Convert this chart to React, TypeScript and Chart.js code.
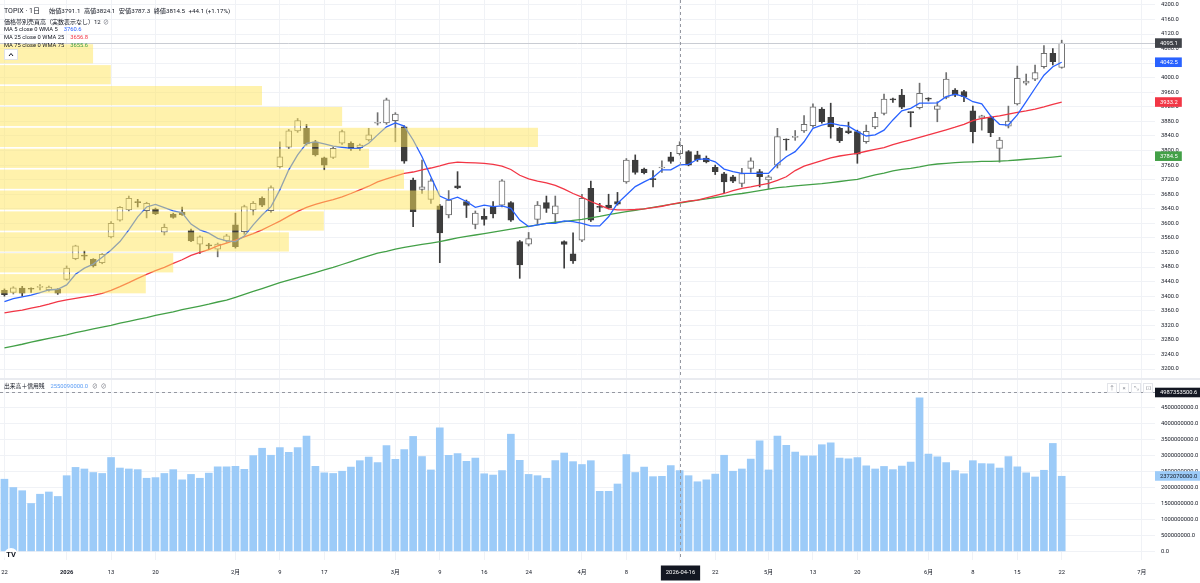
import React, { useEffect, useRef } from "react";
import { Chart, registerables } from "chart.js";

Chart.register(...registerables);

const FONT = '"Roboto", "Noto Sans CJK JP", "Noto Sans", sans-serif';
const AX = 5.8;

// ---- data ----
const dates = [
  "2025-12-22","2025-12-23","2025-12-24","2025-12-25","2025-12-26","2025-12-29","2025-12-30",
  "2026-01-05","2026-01-06","2026-01-07","2026-01-08","2026-01-09","2026-01-13","2026-01-14","2026-01-15","2026-01-16",
  "2026-01-19","2026-01-20","2026-01-21","2026-01-22","2026-01-23","2026-01-26","2026-01-27","2026-01-28","2026-01-29","2026-01-30",
  "2026-02-02","2026-02-03","2026-02-04","2026-02-05","2026-02-06","2026-02-09","2026-02-10","2026-02-12","2026-02-13",
  "2026-02-16","2026-02-17","2026-02-18","2026-02-19","2026-02-20","2026-02-24","2026-02-25","2026-02-26","2026-02-27",
  "2026-03-02","2026-03-03","2026-03-04","2026-03-05","2026-03-06","2026-03-09","2026-03-10","2026-03-11","2026-03-12","2026-03-13",
  "2026-03-16","2026-03-17","2026-03-18","2026-03-19","2026-03-23","2026-03-24","2026-03-25","2026-03-26","2026-03-27","2026-03-30","2026-03-31",
  "2026-04-01","2026-04-02","2026-04-03","2026-04-06","2026-04-07","2026-04-08","2026-04-09","2026-04-10","2026-04-13","2026-04-14",
  "2026-04-15","2026-04-16","2026-04-17","2026-04-20","2026-04-21","2026-04-22","2026-04-23","2026-04-24","2026-04-27","2026-04-28","2026-04-30",
  "2026-05-01","2026-05-07","2026-05-08","2026-05-11","2026-05-12","2026-05-13","2026-05-14","2026-05-15","2026-05-18","2026-05-19",
  "2026-05-20","2026-05-21","2026-05-22","2026-05-25","2026-05-26","2026-05-27","2026-05-28","2026-05-29",
  "2026-06-01","2026-06-02","2026-06-03","2026-06-04","2026-06-05","2026-06-08","2026-06-09","2026-06-10","2026-06-11","2026-06-12",
  "2026-06-15","2026-06-16","2026-06-17","2026-06-18","2026-06-19","2026-06-22",
];
const futureDates = ["2026-06-23","2026-06-24","2026-06-25","2026-06-26","2026-06-29","2026-06-30","2026-07-01","2026-07-02","2026-07-03","2026-07-06"];

const opens = [
  3416,3410,3422,3421,3424,3418,3419,3446,3503,3511,
  3501,3492,3563,3609,3637,3658,3635,3639,3576,3625,
  3630,3580,3543,3539,3529,3552,3596,3577,3637,3669,
  3635,3756,3809,3854,3861,3824,3780,3781,3820,3820,
  3808,3829,3875,3876,3882,3865,3719,3693,3666,3648,
  3623,3703,3660,3597,3619,3646,3650,3657,3550,3543,
  3611,3657,3626,3550,3516,3554,3696,3646,3650,3660,
  3714,3774,3749,3722,3752,3783,3791.1,3797,3788,3779,
  3754,3736,3728,3710,3751,3742,3719,3760,3830,3836,
  3854,3868,3914,3891,3861,3854,3852,3824,3865,3902,
  3940,3952,3905,3918,3942,3913,3946,3966,3962,3909,
  3889,3891,3806,3867,3928,3985,3996,4030,4067,4028,
];
const highs = [
  3420,3426,3427,3423,3432,3428,3421,3483,3540,3524,
  3503,3517,3605,3646,3675,3666,3658,3642,3598,3628,
  3645,3584,3566,3545,3546,3570,3628,3650,3660,3673,
  3703,3824,3858,3888,3872,3828,3782,3810,3856,3824,
  3818,3861,3904,3944,3904,3868,3724,3774,3722,3652,
  3690,3742,3664,3634,3640,3660,3720,3660,3553,3575,
  3660,3675,3675,3552,3574,3680,3716,3655,3680,3685,
  3778,3788,3752,3745,3772,3795,3824.1,3800,3798,3785,
  3760,3740,3732,3751,3780,3748,3732,3861,3832,3855,
  3896,3928,3918,3930,3864,3878,3856,3870,3905,3955,
  3944,3968,3906,3985,3945,3934,4014,3970,3965,3922,
  3897,3895,3836,3922,4032,4010,4035,4088,4080,4103,
];
const lows = [
  3400,3406,3400,3410,3417,3414,3405,3444,3500,3500,
  3480,3489,3560,3606,3634,3645,3615,3624,3568,3614,
  3622,3550,3517,3528,3508,3548,3532,3570,3623,3646,
  3630,3752,3805,3850,3815,3785,3747,3778,3817,3800,
  3800,3826,3870,3872,3824,3765,3591,3682,3655,3492,
  3615,3695,3616,3585,3595,3615,3645,3605,3449,3538,
  3598,3630,3600,3477,3490,3550,3605,3632,3640,3650,
  3710,3735,3736,3700,3740,3765,3787.3,3758,3770,3766,
  3734,3684,3712,3700,3740,3700,3695,3752,3801,3828,
  3850,3864,3875,3834,3822,3846,3765,3820,3860,3898,
  3932,3915,3865,3914,3936,3879,3942,3948,3934,3821,
  3856,3838,3768,3862,3925,3980,3992,4026,4035,4026,
];
const closes = [
  3404,3423,3408,3419,3425,3425,3408,3477,3538,3510,
  3483,3515,3600,3644,3669,3657,3655,3626,3589,3616,
  3624,3552,3563,3538,3543,3566,3536,3646,3655,3650,
  3698,3783,3854,3882,3818,3788,3760,3806,3852,3806,
  3815,3843,3877,3939,3900,3771,3632,3700,3717,3574,
  3664,3697,3649,3628,3611,3626,3717,3609,3486,3558,
  3650,3641,3648,3542,3497,3669,3609,3644,3643,3653,
  3774,3740,3739,3720,3754,3770.4,3814.5,3760,3774,3769,
  3742,3714,3716,3737,3772,3728,3728,3838,3829,3838,
  3872,3920,3879,3865,3827,3849,3790,3853,3891,3941,
  3939,3919,3904,3957,3941,3923,3996,3952,3948,3852,
  3895,3849,3829,3881,3998,3991,4014,4067,4044,4095.1,
];
const ma5 = [
  3385,3393,3398,3403,3410,3417,3419,3431,3460,3477,
  3488,3507,3527,3550,3582,3618,3645,3652,3643,3634,
  3629,3598,3582,3573,3559,3552,3550,3565,3596,3623,
  3646,3692,3747,3788,3820,3824,3818,3812,3809,3806,
  3806,3820,3843,3865,3876,3867,3829,3783,3728,3675,
  3664,3672,3660,3644,3650,3646,3648,3641,3609,3591,
  3596,3600,3600,3607,3605,3600,3593,3593,3618,3655,
  3678,3701,3714,3726,3747,3747,3760.6,3762,3776,3777,
  3769,3749,3742,3737,3737,3737,3737,3763,3783,3797,
  3824,3861,3870,3875,3870,3867,3852,3840,3843,3856,
  3884,3909,3916,3930,3930,3931,3948,3955,3948,3934,
  3928,3895,3872,3870,3898,3934,3971,4007,4030,4042.5,
];
const ma25 = [
  3354,3358,3362,3367,3372,3378,3385,3390,3394,3398,
  3402,3408,3416,3426,3437,3449,3460,3470,3479,3490,
  3500,3512,3520,3528,3538,3546,3554,3563,3572,3582,
  3594,3606,3620,3633,3644,3652,3659,3665,3673,3682,
  3692,3702,3714,3722,3730,3737,3741,3747,3752,3758,
  3765,3768,3767,3766,3765,3762,3757,3748,3732,3722,
  3716,3711,3704,3694,3682,3672,3660,3650,3640,3637,
  3637,3638,3640,3643,3647,3652,3656.8,3661,3664,3670,
  3676,3682,3690,3696,3700,3705,3710,3718,3728,3745,
  3757,3765,3772,3780,3785,3789,3792,3798,3803,3808,
  3816,3823,3829,3836,3843,3850,3857,3864,3872,3882,
  3888,3892,3895,3900,3905,3909,3914,3920,3927,3933.2,
];
const ma75 = [
  3258,3263,3268,3274,3279,3284,3289,3294,3300,3305,
  3310,3315,3320,3326,3331,3336,3341,3347,3352,3357,
  3363,3368,3373,3378,3384,3389,3397,3405,3413,3421,
  3429,3437,3444,3451,3458,3465,3472,3479,3487,3495,
  3503,3511,3518,3523,3529,3534,3538,3542,3546,3550,
  3555,3560,3564,3568,3572,3576,3580,3584,3588,3592,
  3596,3600,3603,3605,3608,3611,3615,3619,3624,3628,
  3632,3636,3640,3644,3648,3652,3655.6,3660,3664,3667,
  3671,3675,3679,3682,3686,3690,3694,3698,3700,3703,
  3705,3707,3709,3712,3715,3718,3721,3727,3733,3738,
  3744,3748,3751,3755,3760,3763,3765,3767,3768,3769,
  3770,3770,3771,3772,3774,3776,3778,3780,3782,3784.5,
];
const volumes = [
  2280000000,2020000000,1920000000,1520000000,1810000000,1880000000,1740000000,2390000000,2650000000,2600000000,
  2490000000,2460000000,2960000000,2630000000,2600000000,2580000000,2310000000,2330000000,2460000000,2580000000,
  2260000000,2430000000,2310000000,2470000000,2670000000,2670000000,2680000000,2590000000,3020000000,3250000000,
  3030000000,3270000000,3120000000,3270000000,3630000000,2680000000,2480000000,2460000000,2530000000,2660000000,
  2860000000,2970000000,2800000000,3330000000,2900000000,3210000000,3620000000,2990000000,2570000000,3890000000,
  3030000000,3080000000,2840000000,2940000000,2450000000,2410000000,2550000000,3690000000,2870000000,2430000000,
  2390000000,2310000000,2860000000,3100000000,2830000000,2740000000,2860000000,1900000000,1900000000,2130000000,
  3050000000,2490000000,2660000000,2360000000,2370000000,2710000000,2550090000,2390000000,2200000000,2260000000,
  2440000000,3030000000,2530000000,2600000000,2910000000,3480000000,2570000000,3630000000,3340000000,3130000000,
  3010000000,3010000000,3360000000,3420000000,2940000000,2920000000,2960000000,2700000000,2600000000,2680000000,
  2580000000,2690000000,2820000000,4830000000,3070000000,2980000000,2800000000,2550000000,2450000000,2860000000,
  2770000000,2760000000,2630000000,2990000000,2670000000,2480000000,2350000000,2560000000,3400000000,2372070000,
];

// price-by-volume profile (12 rows, top to bottom)
const profileEdges = [4092, 4034.6, 3977.2, 3919.8, 3862.4, 3805, 3747.6, 3690.2, 3632.8, 3575.4, 3518, 3460.6, 3403.2];
const profileVolumes = [17.3, 20.6, 48.7, 63.6, 100, 68.6, 75.1, 81.8, 60.2, 53.7, 32.2, 27.1];

const timeTicks: [number, string][] = [
  [0, "22"], [7, "2026"], [12, "13"], [17, "20"], [26, "2月"], [31, "9"], [36, "17"], [44, "3月"], [49, "9"],
  [54, "16"], [59, "24"], [65, "4月"], [70, "8"], [80, "22"], [86, "5月"], [91, "13"], [96, "20"], [104, "6月"],
  [109, "8"], [114, "15"], [119, "22"], [128, "7月"],
];
const priceTickValues = [
  3200, 3240, 3280, 3320, 3360, 3400, 3440, 3480, 3520, 3560, 3600, 3640, 3680,
  3720, 3760, 3800, 3840, 3880, 3920, 3960, 4000, 4040, 4080, 4120, 4160, 4200,
];
const volTickValues = [
  0, 500000000, 1000000000, 1500000000, 2000000000, 2500000000, 3000000000,
  3500000000, 4000000000, 4500000000, 5000000000,
];
const crosshairIndex = 76;
const crosshairDate = "2026-04-16";
const crosshairVolume = 4987353500.6;

const priceMin = 3175.3, priceMax = 4213.4;
const volMin = -2.6e8, volMax = 5.376e9;

const GRID = "#f0f2f6";
const TXT = "#131722";
const BLUE = "#2962ff", RED = "#f23645", GREEN = "#43a047";
const UP_BORDER = "#707070", DOWN = "#3d3d3d";
const VOL_COLOR = "#9ccbf8";
const PROFILE_COLOR = "rgba(255, 230, 90, 0.5)";

function txt(ctx: any, s: string, x: number, y: number, size: number, color: string, weight = "normal", align = "left") {
  ctx.font = `${weight} ${size}px ${FONT}`;
  ctx.fillStyle = color;
  ctx.textAlign = align;
  ctx.textBaseline = "middle";
  ctx.fillText(s, x, y);
  return ctx.measureText(s).width;
}

function axisBox(ctx: any, x: number, y: number, s: string, bg: string, fg: string) {
  ctx.font = `${AX}px ${FONT}`;
  const w = ctx.measureText(s).width + 9;
  ctx.fillStyle = bg;
  ctx.fillRect(x, y - 4.8, w, 9.6);
  txt(ctx, s, x + 5, y + 0.3, AX, fg);
}

const noPad = (s: any) => {
  s.paddingTop = 0;
  s.paddingBottom = 0;
  s.paddingLeft = 0;
  s.paddingRight = 0;
};

export default function App() {
  const priceRef = useRef<HTMLCanvasElement>(null);
  const volRef = useRef<HTMLCanvasElement>(null);

  useEffect(() => {
    const labels = [...dates, ...futureDates];
    const gridIdx = new Set<number>(timeTicks.map((t) => t[0]).concat([crosshairIndex]));
    const isUp = closes.map((c, i) => c >= opens[i]);

    const xScale = (h: number) => ({
      type: "category" as const,
      offset: true,
      grid: {
        offset: false,
        drawTicks: false,
        color: (c: any) => (gridIdx.has(c.index) ? GRID : "rgba(0,0,0,0)"),
      },
      border: { display: false },
      ticks: { display: false, autoSkip: false },
      afterFit: (s: any) => { s.height = h; noPad(s); },
    });

    const yScale = (min: number, max: number, tickValues: number[]) => ({
      position: "right" as const,
      min, max,
      afterFit: (s: any) => { s.width = 45; noPad(s); },
      afterBuildTicks: (s: any) => { s.ticks = tickValues.map((v) => ({ value: v })); },
      grid: { color: GRID, drawTicks: false },
      border: { display: false },
      ticks: {
        padding: 6,
        color: TXT,
        autoSkip: false,
        font: { size: AX, family: FONT },
        callback: (v: any) => Number(v).toFixed(1),
      },
    });

    const pricePlugin = {
      id: "priceOverlay",
      afterDatasetsDraw(chart: any) {
        const { ctx, chartArea: a, scales } = chart;
        const ys = scales.y, xp = scales.xp, xs = scales.x;
        ctx.save();
        ctx.beginPath();
        ctx.rect(a.left, a.top, a.right - a.left, a.bottom - a.top);
        ctx.clip();
        ctx.fillStyle = PROFILE_COLOR;
        for (let i = 0; i < profileVolumes.length; i++) {
          const top = ys.getPixelForValue(profileEdges[i]);
          const bot = ys.getPixelForValue(profileEdges[i + 1]);
          const x0 = xp.getPixelForValue(0);
          const x1 = xp.getPixelForValue(profileVolumes[i]);
          ctx.fillRect(x0, top, x1 - x0, bot - top - 1.7);
        }
        const ly = Math.round(ys.getPixelForValue(closes[closes.length - 1])) + 0.5;
        ctx.strokeStyle = "#c9ccd3";
        ctx.lineWidth = 1;
        ctx.beginPath(); ctx.moveTo(a.left, ly); ctx.lineTo(a.right, ly); ctx.stroke();
        const cx = Math.round(xs.getPixelForValue(crosshairIndex)) + 0.5;
        ctx.setLineDash([3, 3]);
        ctx.strokeStyle = "#9598a1";
        ctx.beginPath(); ctx.moveTo(cx, a.top); ctx.lineTo(cx, a.bottom); ctx.stroke();
        ctx.restore();
      },
      afterDraw(chart: any) {
        const { ctx, chartArea: a, scales } = chart;
        const ys = scales.y;
        const n = closes.length - 1;
        ctx.save();
        const boxes: [number, string][] = [
          [closes[n], "#404349"], [ma5[n], BLUE], [ma25[n], RED], [ma75[n], GREEN],
        ];
        boxes.forEach(([v, bg]) => axisBox(ctx, a.right, ys.getPixelForValue(v), v.toFixed(1), bg, "#ffffff"));

        // legend
        const k = crosshairIndex;
        txt(ctx, "TOPIX · 1日", 4, 11, 7, TXT);
        let x = 49;
        const chg = closes[k] - closes[k - 1];
        const pct = (chg / closes[k - 1]) * 100;
        const items: [string, string][] = [
          ["始値", opens[k].toFixed(1)], ["高値", highs[k].toFixed(1)], ["安値", lows[k].toFixed(1)], ["終値", closes[k].toFixed(1)],
        ];
        items.forEach(([l, v]) => {
          x += txt(ctx, l, x, 11, 6.2, TXT);
          x += txt(ctx, v, x, 11, 6.2, TXT) + 3.5;
        });
        txt(ctx, `${chg >= 0 ? "+" : ""}${chg.toFixed(1)} (${chg >= 0 ? "+" : ""}${pct.toFixed(2)}%)`, x, 11, 6.2, TXT);

        txt(ctx, "価格帯別売買高（実数表示なし）", 4, 22, 6, TXT);
        txt(ctx, "12", 94, 22, 6, TXT);
        txt(ctx, "⊘", 103, 22, 6, "#6a6d78");

        const maRows: [string, number, string, number][] = [
          ["MA 5 close 0 WMA 5", ma5[k], BLUE, 29.8],
          ["MA 25 close 0 WMA 25", ma25[k], RED, 37.6],
          ["MA 75 close 0 WMA 75", ma75[k], GREEN, 45.4],
        ];
        maRows.forEach(([l, v, c, y]) => {
          const w = txt(ctx, l, 4, y, 5.8, TXT);
          txt(ctx, v.toFixed(1), 4 + w + 6, y, 5.8, c);
        });

        // collapse button
        ctx.fillStyle = "#ffffff";
        ctx.strokeStyle = "#dfe2e8";
        ctx.lineWidth = 1;
        ctx.fillRect(4.5, 49.5, 13, 10);
        ctx.strokeRect(4.5, 49.5, 13, 10);
        ctx.strokeStyle = TXT;
        ctx.beginPath(); ctx.moveTo(9, 56); ctx.lineTo(11, 53.5); ctx.lineTo(13, 56); ctx.stroke();
        ctx.restore();
      },
    };

    const volPlugin = {
      id: "volOverlay",
      afterDraw(chart: any) {
        const { ctx, chartArea: a, scales } = chart;
        const ys = scales.y, xs = scales.x;
        ctx.save();
        const cx = Math.round(xs.getPixelForValue(crosshairIndex)) + 0.5;
        const hy = Math.round(ys.getPixelForValue(crosshairVolume)) + 0.5;
        ctx.setLineDash([3, 3]);
        ctx.strokeStyle = "#9598a1";
        ctx.lineWidth = 1;
        ctx.beginPath(); ctx.moveTo(cx, a.top); ctx.lineTo(cx, a.bottom); ctx.stroke();
        ctx.beginPath(); ctx.moveTo(a.left, hy); ctx.lineTo(a.right, hy); ctx.stroke();
        ctx.setLineDash([]);

        axisBox(ctx, a.right, ys.getPixelForValue(volumes[volumes.length - 1]), volumes[volumes.length - 1].toFixed(1), VOL_COLOR, TXT);
        axisBox(ctx, a.right, hy, crosshairVolume.toFixed(1), "#131722", "#ffffff");

        // legend
        let x = 4;
        x += txt(ctx, "出来高＋信用残", x, 6.5, 5.8, TXT) + 6;
        x += txt(ctx, volumes[crosshairIndex].toFixed(1), x, 6.5, 5.8, "#5a9cf5") + 4;
        x += txt(ctx, "⊘", x, 6.5, 5.8, "#6a6d78") + 3;
        txt(ctx, "⊘", x, 6.5, 5.8, "#6a6d78");

        // pane buttons
        const glyphs = ["↑", "×", "⤡", "⊡"];
        ctx.lineWidth = 1;
        glyphs.forEach((g, i) => {
          const bx = 1107.5 + i * 12;
          ctx.strokeStyle = "#e3e5ea";
          ctx.strokeRect(bx, 3.5, 9, 9);
          txt(ctx, g, bx + 4.5, 8.2, 6, "#8a8d96", "normal", "center");
        });

        // time axis labels
        const ty = a.bottom + 13;
        timeTicks.forEach(([i, s]) => {
          const px = xs.getPixelForValue(i);
          txt(ctx, s, px, ty, AX, TXT, s === "2026" ? "bold" : "normal", "center");
        });
        ctx.font = `${AX}px ${FONT}`;
        const dw = ctx.measureText(crosshairDate).width + 10;
        ctx.fillStyle = "#131722";
        ctx.fillRect(cx - dw / 2, a.bottom + 5.5, dw, 15);
        txt(ctx, crosshairDate, cx, ty, AX, "#ffffff", "normal", "center");

        // logo
        ctx.fillStyle = "#ffffff";
        ctx.beginPath(); ctx.arc(11, a.bottom - 5, 7, 0, Math.PI * 2); ctx.fill();
        txt(ctx, "TV", 11, a.bottom - 4.5, 7.5, TXT, "bold", "center");
        ctx.restore();
      },
    };

    const priceChart = new Chart(priceRef.current as HTMLCanvasElement, {
      type: "bar",
      data: {
        labels,
        datasets: [
          {
            type: "line", label: "MA5", data: ma5, borderColor: BLUE, borderWidth: 1.3,
            pointRadius: 0, tension: 0, order: 0,
          } as any,
          {
            type: "line", label: "MA25", data: ma25, borderColor: RED, borderWidth: 1.3,
            pointRadius: 0, tension: 0, order: 0,
          } as any,
          {
            type: "line", label: "MA75", data: ma75, borderColor: GREEN, borderWidth: 1.3,
            pointRadius: 0, tension: 0, order: 0,
          } as any,
          {
            type: "bar", label: "body", data: opens.map((o, i) => [o, closes[i]]),
            backgroundColor: isUp.map((u) => (u ? "#ffffff" : DOWN)),
            borderColor: isUp.map((u) => (u ? UP_BORDER : DOWN)),
            borderWidth: 1, borderSkipped: false, barThickness: 6, minBarLength: 1,
            grouped: false, order: 1,
          } as any,
          {
            type: "bar", label: "wick", data: lows.map((l, i) => [l, highs[i]]),
            backgroundColor: isUp.map((u) => (u ? UP_BORDER : DOWN)),
            borderWidth: 0, barThickness: 1, grouped: false, order: 2,
          } as any,
        ],
      },
      options: {
        responsive: false,
        maintainAspectRatio: false,
        animation: false,
        events: [],
        layout: { padding: 0 },
        plugins: { legend: { display: false }, tooltip: { enabled: false } },
        scales: {
          x: xScale(0) as any,
          xp: {
            type: "linear", axis: "x", position: "bottom", display: true, offset: false,
            min: 0, max: 214.7, bounds: "data",
            grid: { display: false, drawTicks: false, offset: false }, border: { display: false },
            ticks: { display: false },
            afterFit: (s: any) => { s.height = 0; noPad(s); },
          } as any,
          y: yScale(priceMin, priceMax, priceTickValues) as any,
        },
      },
      plugins: [pricePlugin],
    });

    const volChart = new Chart(volRef.current as HTMLCanvasElement, {
      type: "bar",
      data: {
        labels,
        datasets: [
          {
            label: "volume", data: volumes, backgroundColor: VOL_COLOR,
            barPercentage: 0.86, categoryPercentage: 1, borderWidth: 0,
          },
        ],
      },
      options: {
        responsive: false,
        maintainAspectRatio: false,
        animation: false,
        events: [],
        layout: { padding: 0 },
        plugins: { legend: { display: false }, tooltip: { enabled: false } },
        scales: {
          x: xScale(23) as any,
          y: yScale(volMin, volMax, volTickValues) as any,
        },
      },
      plugins: [volPlugin],
    });

    return () => {
      priceChart.destroy();
      volChart.destroy();
    };
  }, []);

  return (
    <div style={{ position: "fixed", left: 0, top: 0, width: 1200, height: 583, background: "#ffffff", overflow: "hidden" }}>
      <canvas ref={priceRef} width={1200} height={378} style={{ position: "absolute", left: 0, top: 0, width: 1200, height: 378 }} />
      <div style={{ position: "absolute", left: 0, top: 378, width: 1200, height: 2, background: "#e9ebf0" }} />
      <canvas ref={volRef} width={1200} height={203} style={{ position: "absolute", left: 0, top: 380, width: 1200, height: 203 }} />
    </div>
  );
}
